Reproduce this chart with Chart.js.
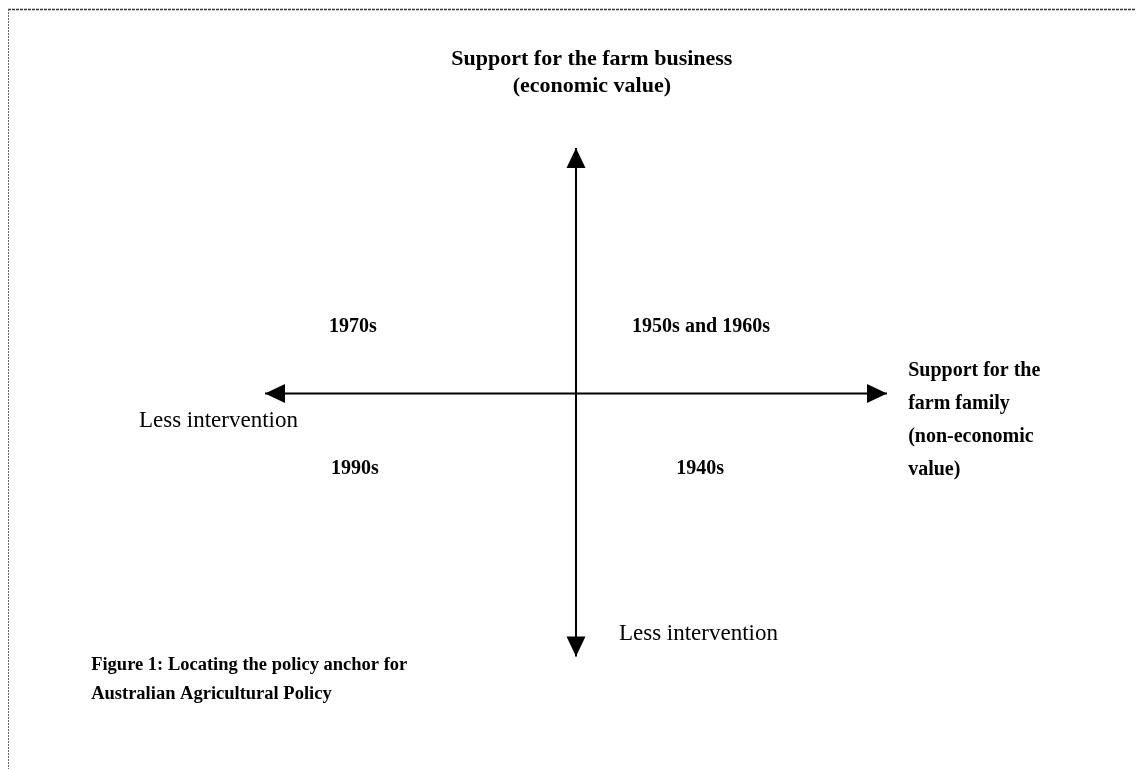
<!DOCTYPE html>
<html>
<head>
<meta charset="utf-8">
<script src="https://cdn.jsdelivr.net/npm/chart.js@4"></script>
<style>
  html, body { margin: 0; padding: 0; background: #ffffff; }
  #wrap { width: 1136px; height: 769px; position: relative; }
</style>
</head>
<body>
<div id="wrap"><canvas id="c" width="1136" height="769"></canvas></div>
<script>
// ---- data (abstract diagram units; origin = crossing of the two axes) ----
const horizontalAxisX = [-1, 1];
const horizontalAxisY = [0, 0];
const verticalAxisX = [0, 0];
const verticalAxisY = [-0.998, 0.932];

const labelTexts = [
  ["Support for the farm business", "(economic value)"],
  ["1970s"],
  ["1950s and 1960s"],
  ["Less intervention"],
  ["Support for the", "farm family", "(non-economic", "value)"],
  ["1990s"],
  ["1940s"],
  ["Less intervention"],
  ["Figure 1: Locating the policy anchor for", "Australian Agricultural Policy"]
];
const labelX = [0.051, -0.717, 0.402, -0.894, 1.068, -0.711, 0.399, 0.138, -1.559];
const labelY = [1.27, 0.254, 0.254, -0.104, 0.085, -0.285, -0.285, -0.911, -1.030];

// ---- styles (kept apart from data) ----
const labelStyle = [
  {bold: true, size: 22, align: 'center', lh: 27},
  {bold: true, size: 20, align: 'center', lh: 27},
  {bold: true, size: 20, align: 'center', lh: 27},
  {bold: false, size: 23, align: 'right', lh: 27},
  {bold: true, size: 20, align: 'left', lh: 33},
  {bold: true, size: 20, align: 'center', lh: 27},
  {bold: true, size: 20, align: 'center', lh: 27},
  {bold: false, size: 23, align: 'left', lh: 27},
  {bold: true, size: 18.5, align: 'left', lh: 29}
];

const toPts = (xs, ys) => xs.map((x, i) => ({x: x, y: ys[i]}));

const diagramPlugin = {
  id: 'diagram',
  beforeDraw(chart) {
    const ctx = chart.ctx;
    ctx.save();
    ctx.fillStyle = '#ffffff';
    ctx.fillRect(0, 0, chart.width, chart.height);
    ctx.strokeStyle = '#333333';
    ctx.lineWidth = 1.5;
    ctx.setLineDash([3, 1]);
    ctx.beginPath();
    ctx.moveTo(8, 9.5); ctx.lineTo(chart.width, 9.5);
    ctx.stroke();
    ctx.strokeStyle = '#666666';
    ctx.lineWidth = 1;
    ctx.setLineDash([2, 1]);
    ctx.beginPath();
    ctx.moveTo(8.5, 9); ctx.lineTo(8.5, chart.height);
    ctx.stroke();
    ctx.restore();
  },
  afterDatasetsDraw(chart) {
    const ctx = chart.ctx;
    const xs = chart.scales.x, ys = chart.scales.y;
    ctx.save();
    chart.data.datasets.forEach(ds => {
      const d = ds.data;
      const ends = [[d[0], d[1]], [d[d.length - 1], d[d.length - 2]]];
      ends.forEach(([tip, prev]) => {
        const tx = xs.getPixelForValue(tip.x), ty = ys.getPixelForValue(tip.y);
        const px = xs.getPixelForValue(prev.x), py = ys.getPixelForValue(prev.y);
        const ang = Math.atan2(ty - py, tx - px);
        const L = 20, W = 9.5;
        ctx.fillStyle = '#000';
        ctx.beginPath();
        ctx.moveTo(tx, ty);
        ctx.lineTo(tx - L * Math.cos(ang) + W * Math.sin(ang), ty - L * Math.sin(ang) - W * Math.cos(ang));
        ctx.lineTo(tx - L * Math.cos(ang) - W * Math.sin(ang), ty - L * Math.sin(ang) + W * Math.cos(ang));
        ctx.closePath();
        ctx.fill();
      });
    });
    labelTexts.forEach((lines, i) => {
      const st = labelStyle[i];
      ctx.font = (st.bold ? 'bold ' : '') + st.size + 'px "Liberation Serif", "Times New Roman", serif';
      ctx.fillStyle = '#000';
      ctx.textAlign = st.align;
      ctx.textBaseline = 'middle';
      const x = xs.getPixelForValue(labelX[i]);
      const y = ys.getPixelForValue(labelY[i]);
      lines.forEach((t, k) => ctx.fillText(t, x, y + k * st.lh));
    });
    ctx.restore();
  }
};

// scale: 1 unit = 311 px horizontally, 263.5 px vertically; origin at the axis crossing
new Chart(document.getElementById('c'), {
  type: 'scatter',
  data: {
    datasets: [
      {data: toPts(horizontalAxisX, horizontalAxisY), showLine: true, borderColor: '#000', borderWidth: 2, pointRadius: 0},
      {data: toPts(verticalAxisX, verticalAxisY), showLine: true, borderColor: '#000', borderWidth: 2, pointRadius: 0}
    ]
  },
  options: {
    responsive: false,
    animation: false,
    layout: {padding: 0},
    plugins: {legend: {display: false}, tooltip: {enabled: false}},
    scales: {
      x: {type: 'linear', display: false, min: -576 / 311, max: (1136 - 576) / 311},
      y: {type: 'linear', display: false, min: -(769 - 393.5) / 263.5, max: 393.5 / 263.5}
    }
  },
  plugins: [diagramPlugin]
});
</script>
</body>
</html>
